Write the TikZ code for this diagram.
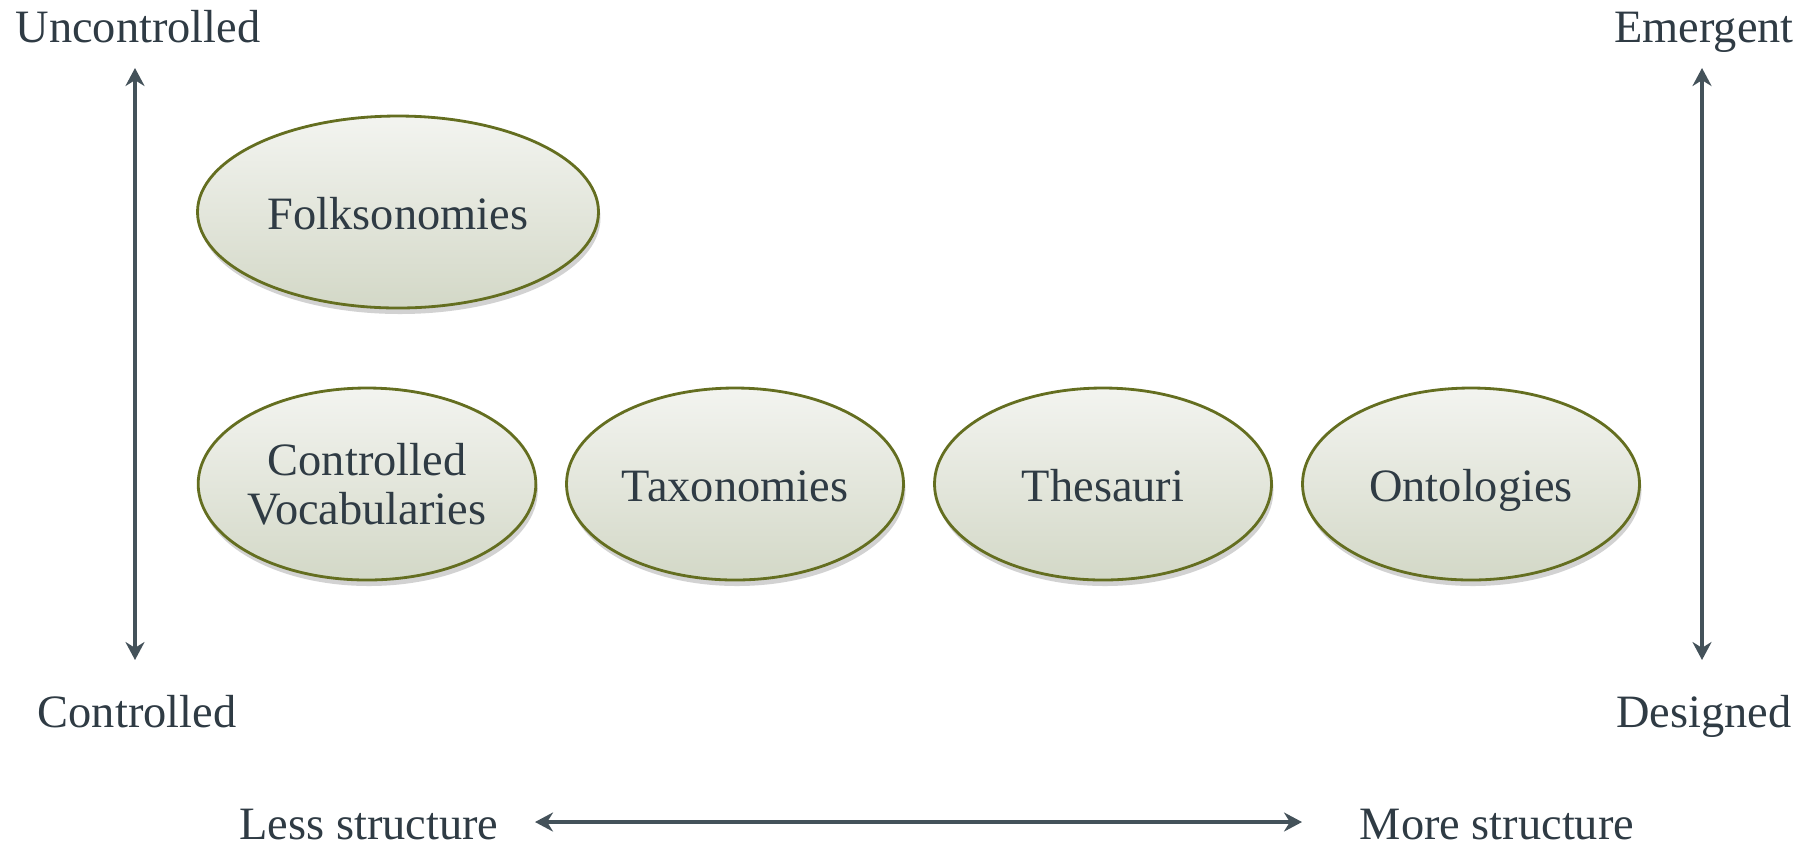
\documentclass[tikz,border=0pt]{standalone}
\usepackage{fontspec}
\setmainfont{Liberation Serif}
\usetikzlibrary{shapes.geometric,arrows.meta,shadows}
\definecolor{cSlate}{RGB}{47,59,68}
\definecolor{cArrow}{RGB}{68,82,90}
\definecolor{cOlive}{RGB}{100,110,32}
\definecolor{cTop}{RGB}{243,244,240}
\definecolor{cBottom}{RGB}{211,216,199}
\tikzset{
  bubble/.style={ellipse, draw=cOlive, line width=0.8pt, top color=cTop, bottom color=cBottom,
    minimum width=3.37cm, minimum height=1.92cm, inner sep=0pt, align=center, text=cSlate,
    drop shadow={shadow xshift=0.02cm, shadow yshift=-0.06cm, opacity=0.25, fill=black!70}},
  oneline/.style={text height=0.45cm, text depth=0.1cm},
  lbl/.style={anchor=base, text=cSlate},
  axis/.style={draw=cArrow, line width=1.4pt, {Stealth[length=0.18cm,width=0.19cm]}-{Stealth[length=0.18cm,width=0.19cm]}}
}
\begin{document}
\begin{tikzpicture}[font=\fontsize{13.2}{13.8}\selectfont]
        \useasboundingbox (0,0) rectangle (18.16,-8.45);
        \node[lbl] (unctl) at (1.38,-0.42) {Uncontrolled};
        \node[lbl] (emerg) at (17.04,-0.42) {Emergent};
        \node[lbl] (ctl) at (1.37,-7.27) {Controlled};
        \node[lbl] (design) at (17.04,-7.27) {Designed};
        \node[lbl] (less) at (3.69,-8.39) {Less structure};
        \node[lbl] (more) at (14.97,-8.39) {More structure};
        \coordinate (ltop) at (1.35,-0.68);
        \coordinate (lbot) at (1.35,-6.60);
        \coordinate (rtop) at (17.02,-0.68);
        \coordinate (rbot) at (17.02,-6.60);
        \coordinate (hleft) at (5.35,-8.22);
        \coordinate (hright) at (13.02,-8.22);
        \draw[axis] (ltop) -- (lbot);
        \draw[axis] (rtop) -- (rbot);
        \draw[axis] (hleft) -- (hright);
        \node[bubble, oneline, minimum width=4.01cm] (folk) at (3.98,-2.12) {Folksonomies};
        \node[bubble] (vocab) at (3.67,-4.84) {Controlled\\Vocabularies};
        \node[bubble, oneline] (taxo) at (7.35,-4.84) {Taxonomies};
        \node[bubble, oneline] (thes) at (11.03,-4.84) {Thesauri};
        \node[bubble, oneline] (onto) at (14.71,-4.84) {Ontologies};
        \end{tikzpicture}
\end{document}
